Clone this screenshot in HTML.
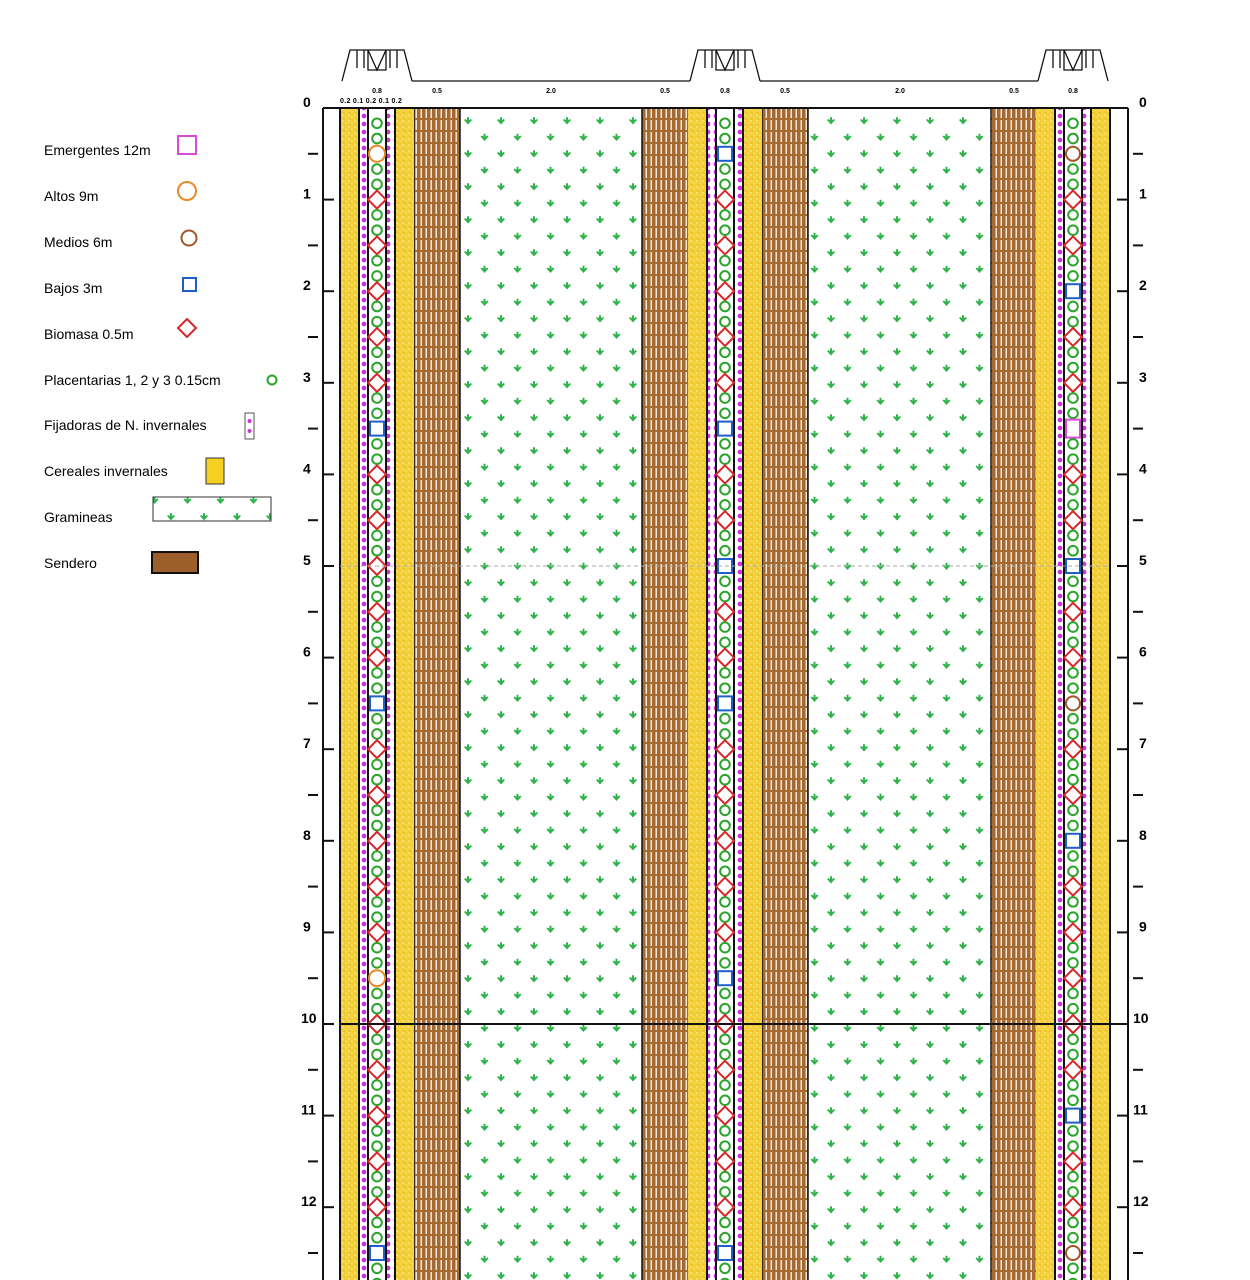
<!DOCTYPE html>
<html><head><meta charset="utf-8"><style>
body{margin:0;background:#fff;width:1250px;height:1280px;overflow:hidden}
svg{display:block}
text{font-family:"Liberation Sans",sans-serif}
</style></head><body>
<svg id="s" width="1250" height="1280" xmlns="http://www.w3.org/2000/svg">
<defs>
<pattern id="yel" width="6" height="6" patternUnits="userSpaceOnUse">
<rect width="6" height="6" fill="#f3cf3a"/>
<circle cx="1" cy="1" r="0.7" fill="#fff3b0"/><circle cx="4" cy="3" r="0.6" fill="#fae78a"/><circle cx="2" cy="5" r="0.6" fill="#d9a81c"/>
</pattern>
<pattern id="brn" x="414" y="108" width="5" height="24" patternUnits="userSpaceOnUse">
<rect width="5" height="24" fill="#a56a32"/>
<rect x="1.5" y="0" width="1.5" height="10" fill="#f4e6d6"/>
<rect x="1.5" y="12" width="1.5" height="10" fill="#f4e6d6"/>
</pattern>
<pattern id="grs" x="460" y="108" width="33" height="33" patternUnits="userSpaceOnUse">
<rect width="33" height="33" fill="#fff"/>
<path id="m" d="M4,12 l4,4.5 l4,-4.5 l-1.3,-1 l-1.7,1.3 l0,-3 l-2,0 l0,3 l-1.7,-1.3 z" fill="#2db34a"/>
<use href="#m" x="16.5" y="16.5"/>
</pattern>
<pattern id="mag" x="0" y="112" width="8" height="8" patternUnits="userSpaceOnUse">
<rect width="8" height="8" fill="#fff"/><circle cx="4" cy="4" r="2.4" fill="#cc33dd"/>
</pattern>
</defs>
<g id="g"></g>
</svg>
<script>
const g=document.getElementById('g');let h='';
const Y0=108,S=91.6,B=1280,H=B-Y0;
function r(x,y,w,hh,f,st){h+=`<rect x="${x}" y="${y}" width="${w}" height="${hh}" fill="${f}" ${st||''}/>`}
r(460,Y0,182,H,'url(#grs)');r(808,Y0,184,H,'url(#grs)');
[[414,46],[642,47],[762,46],[991,47]].forEach(a=>{r(a[0],Y0,a[1],H,'url(#brn)');h+=`<line x1="${a[0]}" y1="${Y0}" x2="${a[0]}" y2="${B}" stroke="#111" stroke-width="1.5"/><line x1="${a[0]+a[1]}" y1="${Y0}" x2="${a[0]+a[1]}" y2="${B}" stroke="#111" stroke-width="1.5"/>`});
function strip(cx){
 r(cx-37,Y0,18,H,'url(#yel)');
 r(cx+19,Y0,18,H,'url(#yel)');
 r(cx-17,Y0,7,H,'url(#mag)');r(cx+10,Y0,7,H,'url(#mag)');
 r(cx-8,Y0,16,H,'#fff');
 [-18,-9,9,18].forEach(d=>h+=`<line x1="${cx+d}" y1="${Y0}" x2="${cx+d}" y2="${B}" stroke="#111" stroke-width="2"/>`);
}
strip(377);strip(725);strip(1073);
h+=`<line x1="340" y1="${Y0}" x2="340" y2="${B}" stroke="#111" stroke-width="2"/><line x1="1110" y1="${Y0}" x2="1110" y2="${B}" stroke="#111" stroke-width="2"/>`;
const sp={377:{1:'O',7:'S',13:'S',19:'O',25:'S'},725:{1:'S',7:'S',10:'S',13:'S',19:'S',25:'S'},1073:{1:'B',4:'S',7:'M',10:'S',13:'B',16:'S',22:'S',25:'B'}};
for(const cx of [377,725,1073]){
 for(let k=0;k<27;k++){
  const y=Y0+k*S/2;
  const t=sp[cx][k];
  if(k>0){
   if(t==='O')h+=`<circle cx="${cx}" cy="${y}" r="8" fill="#fff" stroke="#e88a2a" stroke-width="2"/>`;
   else if(t==='B')h+=`<circle cx="${cx}" cy="${y}" r="7" fill="#fff" stroke="#a0562a" stroke-width="2"/>`;
   else if(t==='S')h+=`<rect x="${cx-7}" y="${y-7}" width="14" height="14" fill="#fff" stroke="#1f5fc8" stroke-width="2"/>`;
   else if(t==='M')h+=`<rect x="${cx-7}" y="${y-9}" width="14" height="18" fill="#fff" stroke="#d84ad8" stroke-width="2"/>`;
   else h+=`<path d="M${cx},${y-9} l9,9 l-9,9 l-9,-9z" fill="#fff" stroke="#d8262a" stroke-width="2"/>`;
  }
  for(const d of [S/6,S/3])h+=`<circle cx="${cx}" cy="${y+d}" r="4.8" fill="none" stroke="#2aa52a" stroke-width="2"/>`;
 }
}
h+=`<line x1="323" y1="${Y0}" x2="1128" y2="${Y0}" stroke="#111" stroke-width="2"/>`;
h+=`<line x1="340" y1="1024" x2="1128" y2="1024" stroke="#111" stroke-width="2"/>`;
h+=`<line x1="340" y1="566" x2="1110" y2="566" stroke="#aaa" stroke-width="1" stroke-dasharray="4,3"/>`;
h+=`<line x1="323" y1="${Y0}" x2="323" y2="${B}" stroke="#111" stroke-width="2"/><line x1="1128" y1="${Y0}" x2="1128" y2="${B}" stroke="#111" stroke-width="2"/>`;
for(let k=0;k<=26;k++){const y=Y0+k*S/2;
 if(k%2==0){const n=k/2;h+=`<line x1="323" y1="${y}" x2="334" y2="${y}" stroke="#111" stroke-width="2"/><line x1="1117" y1="${y}" x2="1128" y2="${y}" stroke="#111" stroke-width="2"/>`;
  h+=`<text x="${n>=10?301:303}" y="${y-1}" font-size="14" font-weight="bold">${n}</text><text x="${n>=10?1133:1139}" y="${y-1}" font-size="14" font-weight="bold">${n}</text>`;}
 else h+=`<line x1="308" y1="${y}" x2="318" y2="${y}" stroke="#111" stroke-width="2"/><line x1="1133" y1="${y}" x2="1143" y2="${y}" stroke="#111" stroke-width="2"/>`;}
h+=`<path d="M412,81 L690,81 M760,81 L1038,81" stroke="#111" stroke-width="1.3" fill="none"/>`;
for(const cx of [377,725,1073]){
 h+=`<path d="M${cx-35},81 L${cx-27},50 L${cx+27},50 L${cx+35},81 M${cx-20},50 L${cx-20},68 M${cx-13},50 L${cx-13},68 M${cx+13},50 L${cx+13},68 M${cx+20},50 L${cx+20},68 M${cx-9},50 L${cx-9},70 L${cx+9},70 L${cx+9},50 M${cx-9},50 L${cx},70 L${cx+9},50" stroke="#111" stroke-width="1.3" fill="none"/>`;
 h+=`<text x="${cx}" y="93" font-size="7" text-anchor="middle" font-weight="bold">0.8</text>`;
}
h+=`<text x="340" y="103" font-size="7" font-weight="bold" letter-spacing="0.3">0.2 0.1 0.2 0.1 0.2</text>`;
[[437,'0.5'],[551,'2.0'],[665,'0.5'],[785,'0.5'],[900,'2.0'],[1014,'0.5']].forEach(a=>h+=`<text x="${a[0]}" y="93" font-size="7" text-anchor="middle" font-weight="bold">${a[1]}</text>`);
const L=[['Emergentes 12m',150],['Altos 9m',196],['Medios 6m',242],['Bajos 3m',288],['Biomasa 0.5m',334],['Placentarias 1, 2 y 3 0.15cm',380],['Fijadoras de N. invernales',425],['Cereales invernales',471],['Gramineas',517],['Sendero',563]];
L.forEach(a=>h+=`<text x="44" y="${a[1]+5}" font-size="14">${a[0]}</text>`);
h+=`<rect x="178" y="136" width="18" height="18" fill="none" stroke="#d84ad8" stroke-width="2"/>`;
h+=`<circle cx="187" cy="191" r="9" fill="none" stroke="#e88a2a" stroke-width="2"/>`;
h+=`<circle cx="189" cy="238" r="7.5" fill="none" stroke="#a0562a" stroke-width="2"/>`;
h+=`<rect x="183" y="278" width="13" height="13" fill="none" stroke="#1f5fc8" stroke-width="2"/>`;
h+=`<path d="M187,319 l9,9 l-9,9 l-9,-9z" fill="none" stroke="#d8262a" stroke-width="2"/>`;
h+=`<circle cx="272" cy="380" r="4.5" fill="none" stroke="#2aa52a" stroke-width="2"/>`;
h+=`<rect x="245" y="413" width="9" height="26" fill="#fff" stroke="#555"/><circle cx="249.5" cy="421" r="2" fill="#cc33dd"/><circle cx="249.5" cy="431" r="2" fill="#cc33dd"/>`;
h+=`<rect x="206" y="458" width="18" height="26" fill="#f5d020" stroke="#333"/>`;
h+=`<rect x="153" y="497" width="118" height="24" fill="url(#grs)" stroke="#333"/>`;
h+=`<rect x="152" y="552" width="46" height="21" fill="#9c5f2b" stroke="#111" stroke-width="2"/>`;
g.innerHTML=h;
</script>
</body></html>
